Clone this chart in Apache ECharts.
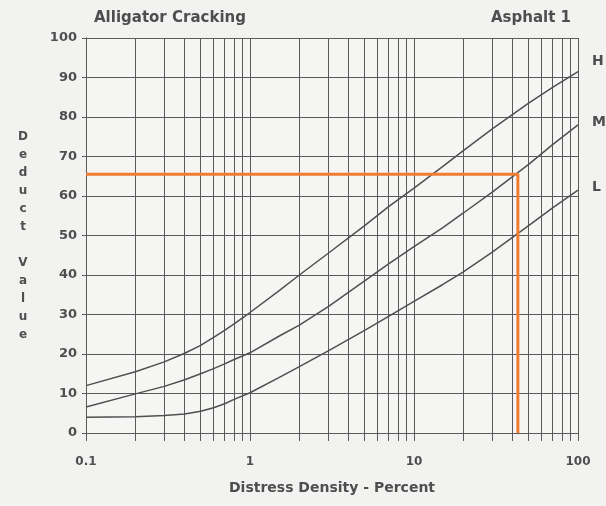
<!DOCTYPE html>
<html>
<head>
<meta charset="utf-8">
<script src="https://cdn.jsdelivr.net/npm/echarts@6/dist/echarts.min.js"></script>
<style>
    html, body { margin: 0; padding: 0; background: #f2f3f1; }
    #chart { width: 606px; height: 506px; }
</style>
</head>
<body>
<div id="chart"></div>
<script>
// density (percent)
const density = [0.1, 0.2, 0.3, 0.4, 0.5, 0.6, 0.7, 0.8, 1, 1.5, 2, 3, 5, 7, 10, 15, 20, 30, 50, 70, 100];
const highValues = [12, 15.5, 18, 20.2, 22.2, 24.2, 26, 27.6, 30.5, 36, 40, 45.5, 52.5, 57.3, 62, 67.5, 71.5, 77, 83.5, 87.5, 91.5];
const mediumValues = [6.6, 9.9, 11.8, 13.5, 15, 16.3, 17.5, 18.6, 20.3, 24.5, 27.3, 32, 38.5, 42.8, 47.2, 52, 55.7, 61, 68, 73, 78];
const lowValues = [4, 4.1, 4.4, 4.8, 5.5, 6.4, 7.4, 8.5, 10.2, 14, 16.8, 20.8, 26, 29.5, 33.3, 37.6, 40.8, 45.8, 52.5, 57, 61.5];

// reading line: density 43 -> deduct 65.5
const readingX = [0.1, 43, 43];
const readingY = [65.5, 65.5, 0];

// tick positions on the x axis
const xGridValues = [
    0.1, 0.2, 0.3, 0.4, 0.5, 0.6, 0.7, 0.8, 0.9,
    1, 2, 3, 4, 5, 6, 7, 8, 9,
    10, 20, 30, 40, 50, 60, 70, 80, 90, 100,
];
const xLabelValues = [0.1, 1, 10, 100];

const textColor = "#4e4e4e";
const gridColor = "#5a5a5a";
const curveColor = "#4f4f4f";
const font = "DejaVu Sans";

function pairs(xs, ys) {
    return xs.map((x, i) => [x, ys[i]]);
}

function curve(name, values, offset) {
    return {
        name: name,
        type: "line",
        data: pairs(density, values),
        showSymbol: false,
        silent: true,
        lineStyle: { color: curveColor, width: 1.5 },
        endLabel: {
            show: true,
            formatter: name,
            offset: offset,
            color: textColor,
            fontFamily: font,
            fontWeight: "bold",
            fontSize: 14,
        },
    };
}

const option = {
    backgroundColor: "#f2f3f1",
    animation: false,
    title: [
        {
            text: "Alligator Cracking",
            left: 89,
            top: 6,
            textStyle: { color: textColor, fontFamily: font, fontWeight: "bold", fontSize: 15 },
        },
        {
            text: "Asphalt 1",
            right: 30,
            top: 6,
            textStyle: { color: textColor, fontFamily: font, fontWeight: "bold", fontSize: 15 },
        },
    ],
    grid: {
        left: 86,
        right: 28,
        top: 38,
        bottom: 73,
        show: true,
        backgroundColor: "#f5f6f4",
        borderWidth: 0,
    },
    xAxis: {
        type: "log",
        logBase: 10,
        min: 0.1,
        max: 100,
        name: "Distress Density - Percent",
        nameLocation: "middle",
        nameGap: 48,
        nameTextStyle: { color: textColor, fontFamily: font, fontWeight: "bold", fontSize: 14 },
        axisLine: { show: true, lineStyle: { color: gridColor, width: 1 } },
        axisTick: {
            show: true,
            length: 8,
            customValues: xGridValues,
            lineStyle: { color: gridColor, width: 1 },
        },
        axisLabel: {
            customValues: xLabelValues,
            margin: 23,
            color: textColor,
            fontFamily: font,
            fontWeight: "bold",
            fontSize: 12,
        },
        splitLine: { show: true, lineStyle: { color: gridColor, width: 1 } },
    },
    yAxis: {
        type: "value",
        min: 0,
        max: 100,
        interval: 10,
        name: "D\ne\nd\nu\nc\nt\n\nV\na\nl\nu\ne",
        nameLocation: "middle",
        nameRotate: 0,
        nameGap: 63,
        nameTextStyle: {
            color: textColor,
            fontFamily: font,
            fontWeight: "bold",
            fontSize: 12,
            lineHeight: 18,
            align: "center",
        },
        axisLine: { show: true, lineStyle: { color: gridColor, width: 1 } },
        axisTick: { show: true, length: 4, lineStyle: { color: gridColor, width: 1 } },
        axisLabel: {
            margin: 9,
            color: textColor,
            fontFamily: font,
            fontWeight: "bold",
            fontSize: 13,
        },
        splitLine: { show: true, lineStyle: { color: gridColor, width: 1 } },
    },
    series: [
        curve("H", highValues, [6, -10]),
        curve("M", mediumValues, [6, -3]),
        curve("L", lowValues, [6, -3]),
        {
            name: "reading",
            type: "line",
            data: pairs(readingX, readingY),
            showSymbol: false,
            silent: true,
            lineStyle: { color: "#ee7d31", width: 3 },
            z: 5,
        },
    ],
};

const chart = echarts.init(document.getElementById("chart"));
chart.setOption(option);
</script>
</body>
</html>
